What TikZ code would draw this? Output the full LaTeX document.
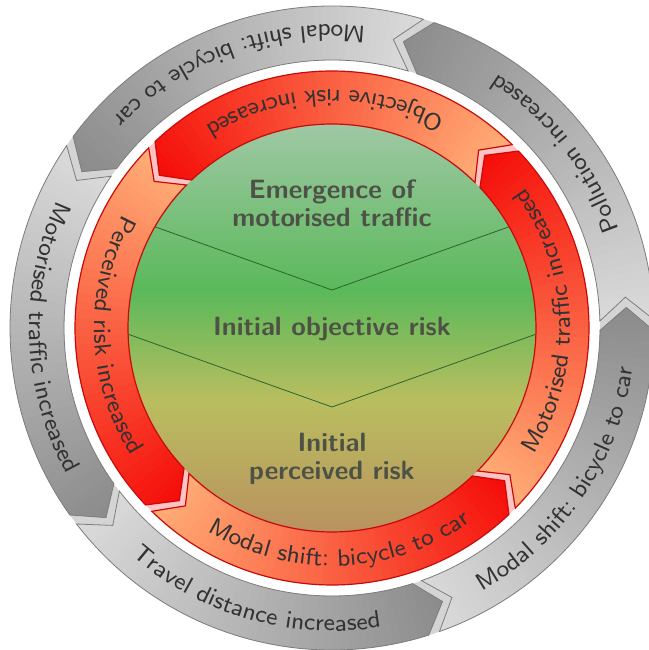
\RequirePackage{fix-cm}
\documentclass[tikz,border=0pt]{standalone}
\usetikzlibrary{decorations.text}
\definecolor{redhead}{RGB}{245,15,10}
\definecolor{redtail}{RGB}{255,172,118}
\definecolor{redborder}{RGB}{200,10,10}
\definecolor{pinkbg}{RGB}{255,195,195}
\definecolor{grayhead}{RGB}{140,140,140}
\definecolor{graytail}{RGB}{218,218,218}
\definecolor{grayborder}{RGB}{125,125,125}
\definecolor{graybg}{RGB}{212,212,212}
\definecolor{dA}{RGB}{160,200,165}
\definecolor{dB}{RGB}{90,185,90}
\definecolor{dC}{RGB}{185,190,95}
\definecolor{dD}{RGB}{185,145,95}
\definecolor{vlinecol}{RGB}{45,100,45}
\definecolor{ctextcol}{RGB}{78,82,70}
\definecolor{ringtxt}{RGB}{50,50,50}
\font\ringfont=cmss8 at 24pt
\tikzset{
  ctext/.style={font=\sffamily\bfseries\fontsize{26.5}{28}\selectfont, text=ctextcol, inner sep=0pt},
  vline/.style={draw=vlinecol, line width=0.8pt},
}
% #1 tail angle, #2 head angle, #3 inner r, #4 outer r, #5 tip depth, #6 head colour, #7 tail colour, #8 border colour, #9 border width
\newcommand\ringarrow[9]{%
  \pgfmathsetmacro\rmid{(#3+#4)/2}%
  \pgfmathsetmacro\aend{#2+#5}%
  \begin{scope}
    \clip (#1:#4) arc[start angle=#1, end angle=#2, radius=#4] -- (\aend:\rmid) -- (#2:#3) arc[start angle=#2, end angle=#1, radius=#3] -- ({#1+#5}:\rmid) -- cycle;
    \foreach \ii in {0,...,47}{%
      \pgfmathsetmacro\angA{#1+(\aend-(#1))*\ii/48-0.2}%
      \pgfmathsetmacro\angB{#1+(\aend-(#1))*(\ii+1)/48+0.2}%
      \pgfmathsetmacro\pmix{100*\ii/47}%
      \fill[#6!\pmix!#7] (0,0) -- (\angA:400) -- (\angB:400) -- cycle;
    }
  \end{scope}
  \draw[draw=#8, line width=#9, line join=miter] (#1:#4) arc[start angle=#1, end angle=#2, radius=#4] -- (\aend:\rmid) -- (#2:#3) arc[start angle=#2, end angle=#1, radius=#3] -- ({#1+#5}:\rmid) -- cycle;
}
% #1 centre angle, #2 baseline radius, #3 text
\newcommand\arctext[3]{%
  \path[decorate, decoration={text along path, text align=center,
    text={|\ringfont\color{ringtxt}|#3}}]
    ({#1-45}:#2) arc[start angle={#1-45}, end angle={#1+45}, radius=#2];
}
\begin{document}
\begin{tikzpicture}[x=1pt,y=1pt]
\fill[white] (-332,-322) rectangle (316,328);
\useasboundingbox (-332,-322) rectangle (316,328);
% background rings
\fill[graybg, even odd rule] (0,0) circle[radius=322] (0,0) circle[radius=268];
\fill[pinkbg, even odd rule] (0,0) circle[radius=257] (0,0) circle[radius=204];
% central disk
\begin{scope}
  \clip (0,0) circle[radius=204];
  \shade[top color=dA, bottom color=dB] (-210,206) rectangle (210,37.5);
  \shade[top color=dB, bottom color=dC] (-210,38) rectangle (210,-72.5);
  \shade[top color=dC, bottom color=dD] (-210,-72) rectangle (210,-206);
  \draw[vline] (-260,{38+0.357*260}) -- (0,38) -- (260,{38+0.357*260});
  \draw[vline] (-260,{-79+0.357*260}) -- (0,-79) -- (260,{-79+0.357*260});
\end{scope}
% red ring arrows
\ringarrow{-44.5}{43.5}{204}{257}{5}{redhead}{redtail}{redborder}{1.2pt}
\ringarrow{45.5}{133.5}{204}{257}{5}{redhead}{redtail}{redborder}{1.2pt}
\ringarrow{135.5}{223.5}{204}{257}{5}{redhead}{redtail}{redborder}{1.2pt}
\ringarrow{225.5}{313.5}{204}{257}{5}{redhead}{redtail}{redborder}{1.2pt}
% gray ring arrows
\ringarrow{1.5}{71.5}{268}{322}{4.5}{grayhead}{graytail}{grayborder}{0.8pt}
\ringarrow{73.5}{143.5}{268}{322}{4.5}{grayhead}{graytail}{grayborder}{0.8pt}
\ringarrow{145.5}{215.5}{268}{322}{4.5}{grayhead}{graytail}{grayborder}{0.8pt}
\ringarrow{217.5}{287.5}{268}{322}{4.5}{grayhead}{graytail}{grayborder}{0.8pt}
\ringarrow{289.5}{359.5}{268}{322}{4.5}{grayhead}{graytail}{grayborder}{0.8pt}
% ring texts
\arctext{2}{238}{Motorised traffic increased}
\arctext{92}{238}{Objective risk increased}
\arctext{182}{238}{Perceived risk increased}
\arctext{272}{238}{Modal shift: bicycle to car}
\arctext{38}{303}{Pollution increased}
\arctext{110}{303}{Modal shift: bicycle to car}
\arctext{182}{303}{Motorised traffic increased}
\arctext{254}{303}{Travel distance increased}
\arctext{326}{303}{Modal shift: bicycle to car}
% centre texts
\node[ctext, align=center] (emerg) at (0,125) {Emergence of\\motorised traffic};
\node[ctext] (objr) at (0,-1) {Initial objective risk};
\node[ctext, align=center] (percr) at (0,-131) {Initial\\perceived risk};
\end{tikzpicture}
\end{document}
